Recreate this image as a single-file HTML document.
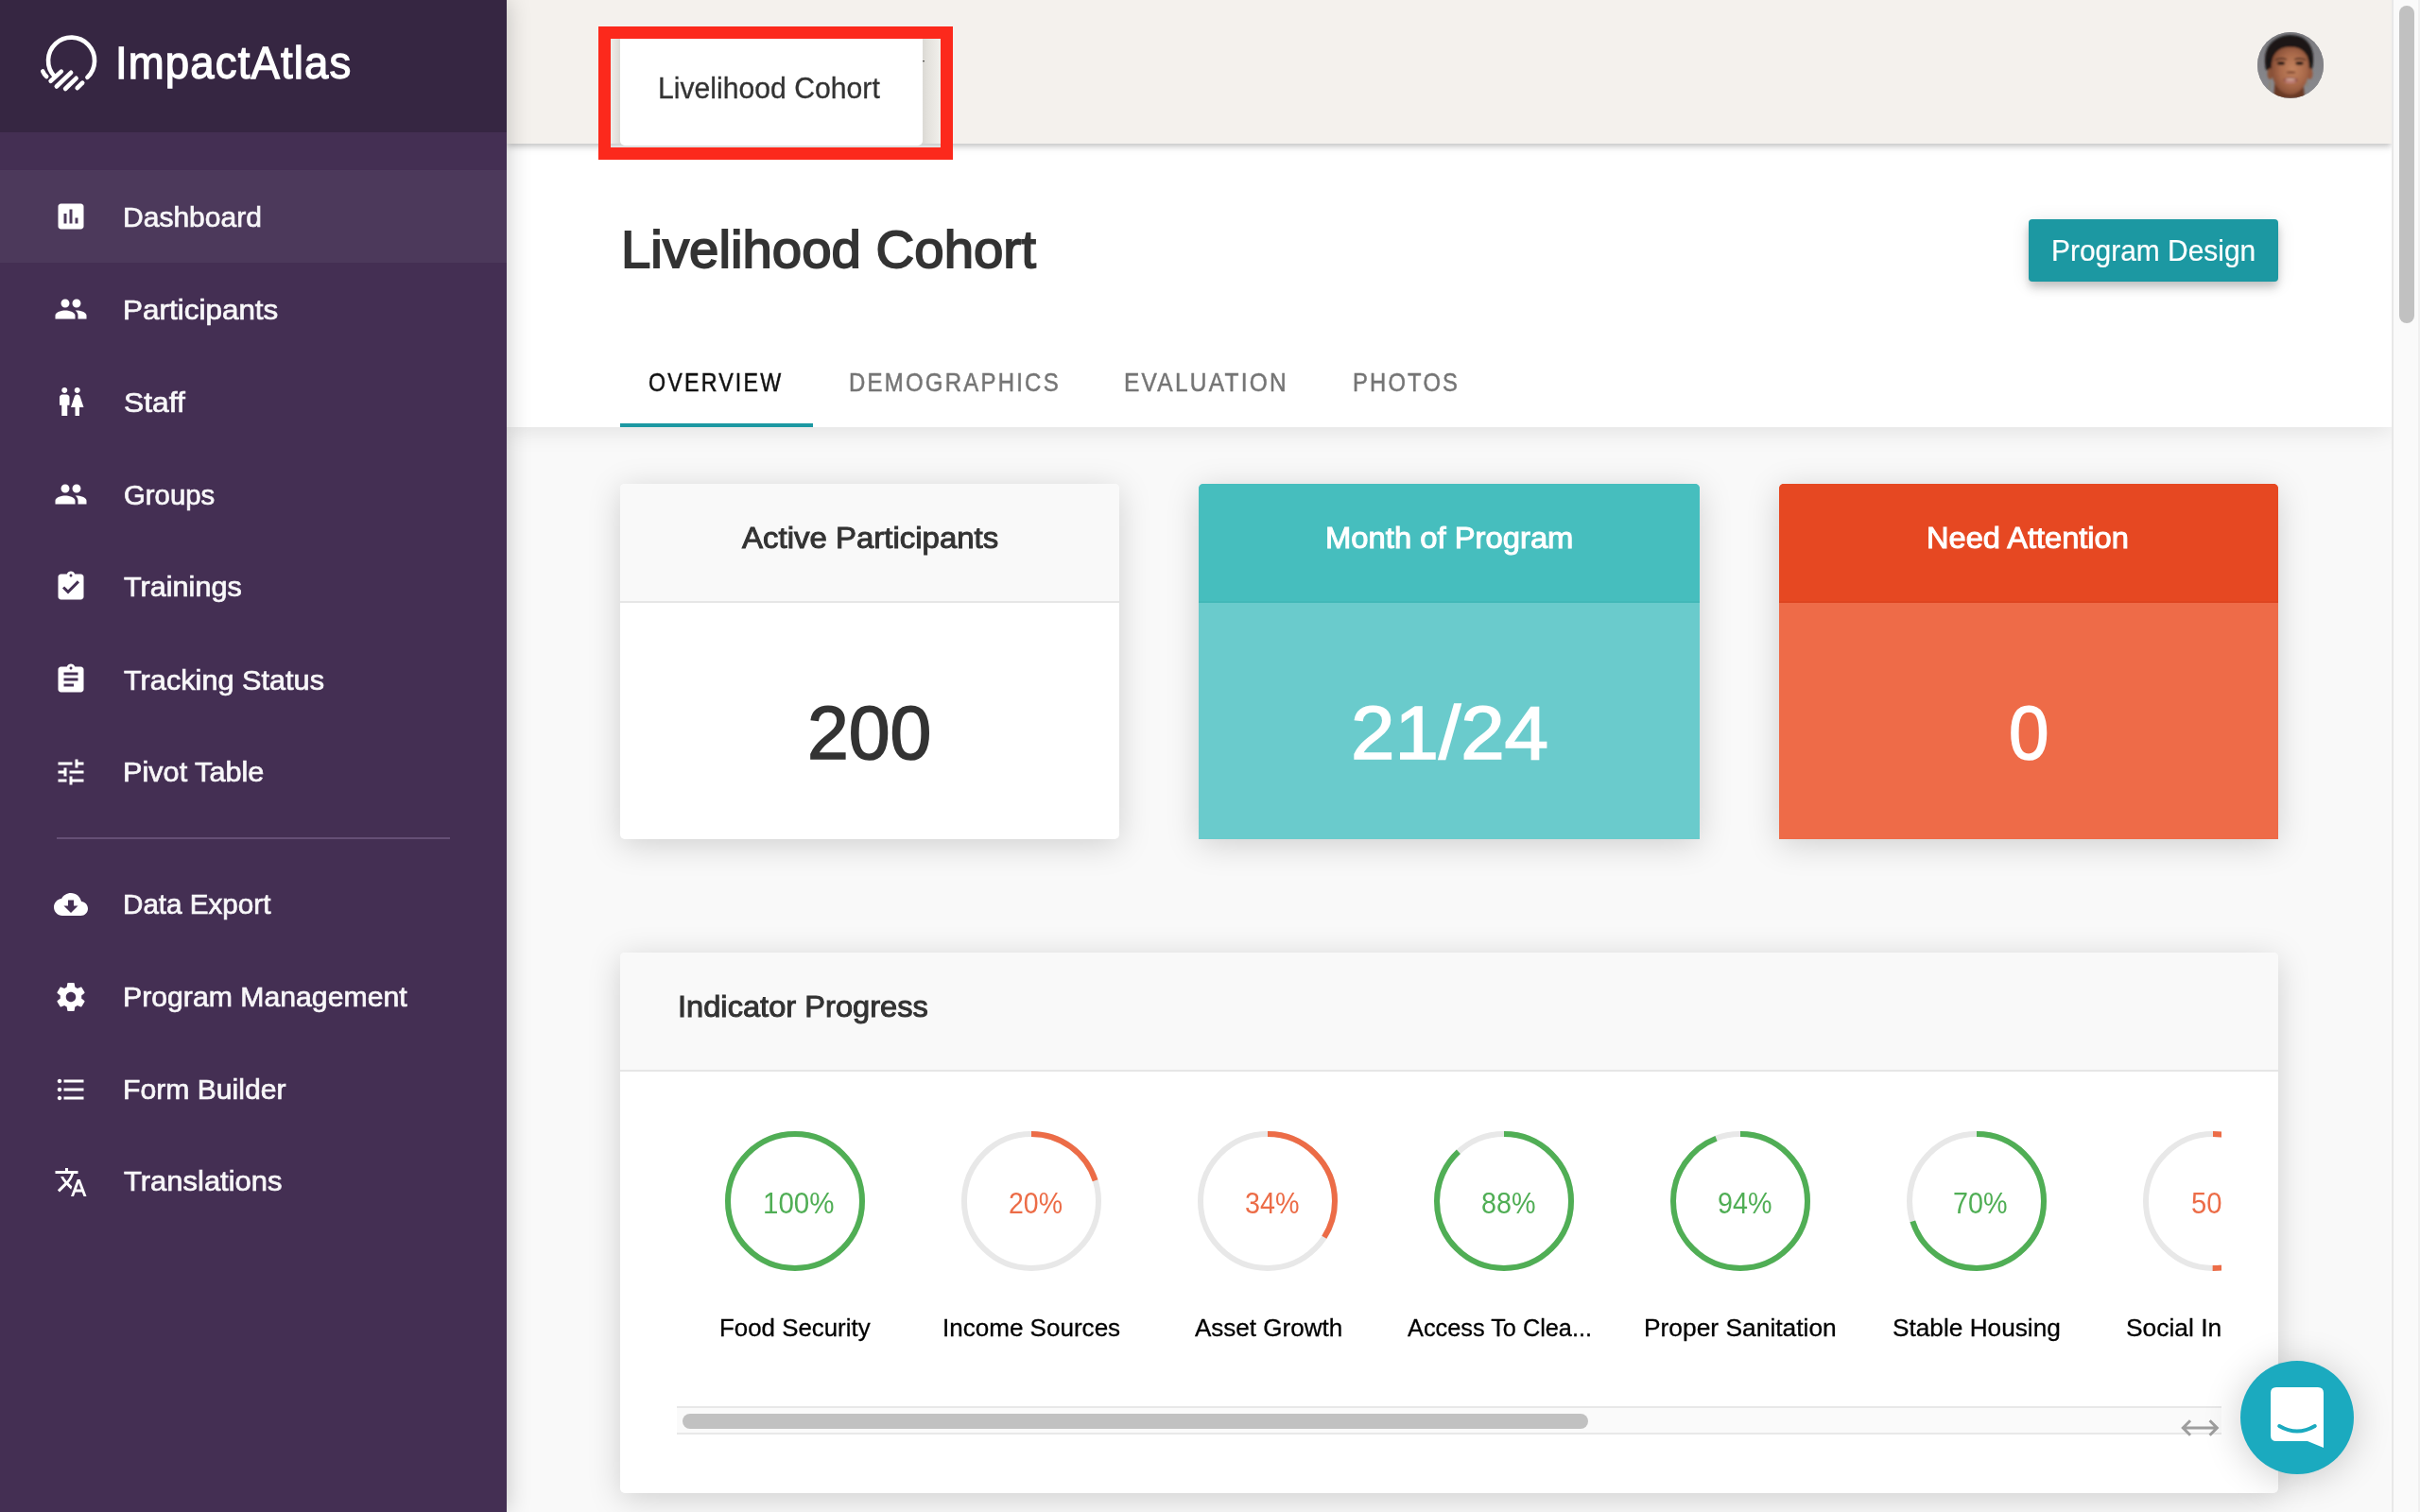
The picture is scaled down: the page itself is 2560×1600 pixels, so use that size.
<!DOCTYPE html>
<html lang="en">
<head>
<meta charset="utf-8">
<title>Impact Atlas - Livelihood Cohort</title>
<style>
*{box-sizing:border-box;margin:0;padding:0}
html,body{width:2560px;height:1600px;overflow:hidden;background:#f9f9f9;font-family:"Liberation Sans",sans-serif}
.abs{position:absolute}
.tx{position:absolute;white-space:nowrap;transform-origin:0 0;font-family:"Liberation Sans",sans-serif}
#textlayer{position:absolute;left:0;top:0;width:2560px;height:1600px;z-index:7;pointer-events:none}
#cliplayer{position:absolute;left:0;top:0;width:2350px;height:1600px;overflow:hidden}
#main{position:absolute;left:536px;top:0;width:1994px;height:1600px;background:#f9f9f9;overflow:hidden}
#topbar{position:absolute;left:0;top:0;width:1994px;height:152px;background:#f4f1ed;box-shadow:0 3px 6px -1px rgba(0,0,0,.20),0 5px 8px rgba(0,0,0,.07);z-index:3}
#pagehead{position:absolute;left:0;top:152px;width:1994px;height:300px;background:#fff;box-shadow:0 4px 24px rgba(0,0,0,.10);z-index:2}
#sidebar{position:absolute;left:0;top:0;width:536px;height:1600px;background:#442f53;box-shadow:0 0 24px rgba(0,0,0,.22);z-index:5}
#brand{position:absolute;left:0;top:0;width:536px;height:140px;background:#362642}
.nav{position:absolute;left:0;width:536px;height:98px}
.nav.active{background:#4c395b}
.nav svg{position:absolute;left:57px;top:31px;width:36px;height:36px;fill:#fff}
#divider{position:absolute;left:60px;top:886px;width:416px;height:2px;background:#654f75}
#scrolltrack{position:absolute;left:2530px;top:0;width:30px;height:1600px;background:#fafafa;border-left:2px solid #e8e8e8;border-right:2px solid #f0f0f0;z-index:6}
#scrollthumb{position:absolute;left:6px;top:6px;width:16px;height:336px;border-radius:8px;background:#c1c1c1}
.card{position:absolute;border-radius:5px;box-shadow:0 6px 34px rgba(0,0,0,.17);overflow:hidden;background:#fff}
.card .hd{position:absolute;left:0;top:0;width:100%;height:126px}
.ring{position:absolute;top:1197px;width:148px;height:148px}
</style>
</head>
<body>

<div id="main">
  <div id="topbar">
    <div class="abs" style="left:110px;top:41px;width:349px;height:111px;background:linear-gradient(90deg,#efede9 0,#dcdad5 10px,#dcdad5 330px,#e4e2dd 336px,#f1efeb 349px)"></div>
    <div class="abs" style="left:120px;top:30px;width:320px;height:124px;background:#fff;border-radius:0 0 5px 5px"></div>
    <div class="abs" style="left:439.800px;top:64px;width:0;height:0;border-left:1.300px solid transparent;border-right:1.300px solid transparent;border-top:2.300px solid #2a2a2a"></div>
    <div class="abs" id="avatar" style="left:1852px;top:34px;width:70px;height:70px;border-radius:50%;overflow:hidden;background:#828287">
      <svg width="70" height="70" viewBox="0 0 70 70">
        <defs>
          <linearGradient id="bgav" x1="0" y1="0" x2="0" y2="1"><stop offset="0" stop-color="#7b7b80"/><stop offset="1" stop-color="#8a8a8e"/></linearGradient>
          <radialGradient id="face" cx="56%" cy="48%" r="62%"><stop offset="0" stop-color="#c4845f"/><stop offset=".55" stop-color="#a9694a"/><stop offset="1" stop-color="#7c4630"/></radialGradient>
          <filter id="bl" x="-10%" y="-10%" width="120%" height="120%"><feGaussianBlur stdDeviation="0.9"/></filter>
        </defs>
        <rect width="70" height="70" fill="url(#bgav)"/>
        <g filter="url(#bl)">
          <path d="M9 40 Q5 20 16 10 Q27 1 40 3.500 Q55 6 58.500 22 Q60 32 57.500 40 L50 41 L16 41Z" fill="#1a1617"/>
          <ellipse cx="13.500" cy="44" rx="3" ry="6" fill="#8a5238"/>
          <ellipse cx="55.500" cy="44" rx="3" ry="6" fill="#96593e"/>
          <path d="M18.500 52 L48.500 52 L50 70 L17 70Z" fill="#6a3b27"/>
          <path d="M14.800 38 Q14.500 16 34.800 15.500 Q55 16 54.800 38 Q54.500 52 47 60 Q41 66 34.800 66 Q28 66 22.500 60 Q15 52 14.800 38Z" fill="url(#face)"/>
          <path d="M12 40 Q11 24 19 19 Q27 14.500 36 15.500 Q47 15.500 53 22 Q58 28 57.500 40 Q60 20 50 9 Q38 2 24 6 Q8 14 12 40Z" fill="#1a1617"/>
          <path d="M19 29.500 Q25 26.800 31 29" stroke="#3a2219" stroke-width="1.300" fill="none"/>
          <path d="M39 29 Q45 26.800 51 29.500" stroke="#3a2219" stroke-width="1.300" fill="none"/>
          <ellipse cx="25" cy="33" rx="4.200" ry="1.900" fill="#2a1a15"/>
          <ellipse cx="44.500" cy="33" rx="4.200" ry="1.900" fill="#2a1a15"/>
          <ellipse cx="35.500" cy="42.500" rx="5" ry="1.600" fill="#8a5138"/>
          <ellipse cx="35" cy="50.800" rx="8.200" ry="3" fill="#9a5a4e"/>
          <ellipse cx="35" cy="50" rx="5.200" ry="0.900" fill="#d2aa9c"/>
          <ellipse cx="35" cy="52.600" rx="5.800" ry="1.600" fill="#c08078"/>
          <path d="M13.500 52 L12.500 61" stroke="#8d8268" stroke-width="1.200"/>
          <path d="M53 52 L52.500 58" stroke="#8d8268" stroke-width="1"/>
        </g>
      </svg>
    </div>
  </div>
  <div id="pagehead">
    <div class="abs" id="btn" style="left:1610px;top:80px;width:264px;height:66px;border-radius:4px;background:#1c98a2;box-shadow:0 4px 8px -2px rgba(0,0,0,.14),0 8px 10px rgba(0,0,0,.11),0 2px 20px rgba(0,0,0,.10)"></div>
    <div class="abs" style="left:120px;top:296px;width:204px;height:4px;background:#1c98a2"></div>
  </div>
  <div class="card" style="left:120px;top:512px;width:528px;height:376px">
    <div class="hd" style="background:#f9f9f9;border-bottom:2px solid #e6e6e6"></div>
  </div>
  <div class="card" style="left:732px;top:512px;width:530px;height:376px;background:#6acbcc;border-radius:5px 5px 0 0">
    <div class="hd" style="background:#46bebe;border-bottom:2px solid #42b8b8"></div>
  </div>
  <div class="card" style="left:1346px;top:512px;width:528px;height:376px;background:#ee6b48;border-radius:5px 5px 0 0">
    <div class="hd" style="background:#e64822;border-bottom:2px solid #de4520"></div>
  </div>
  <div class="card" style="left:120px;top:1008px;width:1754px;height:572px">
    <div class="hd" style="background:#f9f9f9;border-bottom:2px solid #e6e6e6"></div>
    <div class="abs" id="hscroll" style="left:60px;top:480px;width:1634px;height:30px;background:#fafafa;border-top:2px solid #e8e8e8;border-bottom:2px solid #e8e8e8">
      <div class="abs" style="left:6px;top:6px;width:958px;height:16px;border-radius:8px;background:#c1c1c1"></div>
    </div>
    <svg class="abs" style="left:1648px;top:489.600px" width="48" height="26" viewBox="0 0 48 26"><path d="M13 5.300 L5.300 13 L13 20.700 M5.300 13 H41.300 M33.600 5.300 L41.300 13 L33.600 20.700" fill="none" stroke="#9e9e9e" stroke-width="3"/></svg>
  </div>
</div>
<div id="sidebar">
  <div id="brand">
    <svg class="abs" style="left:30px;top:20px" width="100" height="100" viewBox="30 20 100 100">
      <g fill="none" stroke="#fff" stroke-width="4.600" stroke-linecap="round">
        <path d="M92.400 81.900 A24.500 24.500 0 1 0 57.600 80.800"/>
        <path d="M53.600 85.800 L64.800 75.600"/>
        <path d="M59.800 91.500 L75.100 76.800"/>
        <path d="M69.100 94 L80.600 82.800"/>
        <path d="M81.700 93.200 L87.200 87.700"/>
        <path d="M45.300 75.500 Q46.600 78.800 49.200 81"/>
      </g>
    </svg>
  </div>
  <div class="nav active" style="top:180px"><svg viewBox="0 0 24 24"><path d="M19 3H5c-1.1 0-2 .9-2 2v14c0 1.1.9 2 2 2h14c1.1 0 2-.9 2-2V5c0-1.1-.9-2-2-2zM9 17H7v-7h2v7zm4 0h-2V7h2v10zm4 0h-2v-4h2v4z"/></svg></div>
<div class="nav" style="top:278px"><svg viewBox="0 0 24 24"><path d="M16 11c1.66 0 2.99-1.34 2.99-3S17.66 5 16 5c-1.66 0-3 1.34-3 3s1.34 3 3 3zm-8 0c1.66 0 2.99-1.34 2.99-3S9.66 5 8 5C6.34 5 5 6.34 5 8s1.34 3 3 3zm0 2c-2.33 0-7 1.17-7 3.5V19h14v-2.5c0-2.33-4.67-3.5-7-3.5zm8 0c-.29 0-.62.02-.97.05 1.16.84 1.97 1.97 1.97 3.45V19h6v-2.5c0-2.33-4.67-3.5-7-3.5z"/></svg></div>
<div class="nav" style="top:376px"><svg viewBox="0 0 24 24"><path d="M5.5 22v-7.5H4V9c0-1.1.9-2 2-2h3c1.1 0 2 .9 2 2v5.5H9.5V22h-4zM18 22v-6h3l-2.54-7.63C18.18 7.55 17.42 7 16.56 7h-.12c-.86 0-1.63.55-1.9 1.37L12 16h3v6h3zM7.5 6c1.11 0 2-.89 2-2s-.89-2-2-2-2 .89-2 2 .89 2 2 2zm9 0c1.11 0 2-.89 2-2s-.89-2-2-2-2 .89-2 2 .89 2 2 2z"/></svg></div>
<div class="nav" style="top:474px"><svg viewBox="0 0 24 24"><path d="M16 11c1.66 0 2.99-1.34 2.99-3S17.66 5 16 5c-1.66 0-3 1.34-3 3s1.34 3 3 3zm-8 0c1.66 0 2.99-1.34 2.99-3S9.66 5 8 5C6.34 5 5 6.34 5 8s1.34 3 3 3zm0 2c-2.33 0-7 1.17-7 3.5V19h14v-2.5c0-2.33-4.67-3.5-7-3.5zm8 0c-.29 0-.62.02-.97.05 1.16.84 1.97 1.97 1.97 3.45V19h6v-2.5c0-2.33-4.67-3.5-7-3.5z"/></svg></div>
<div class="nav" style="top:572px"><svg viewBox="0 0 24 24"><path d="M19 3h-4.18C14.4 1.84 13.3 1 12 1c-1.3 0-2.4.84-2.82 2H5c-1.1 0-2 .9-2 2v14c0 1.1.9 2 2 2h14c1.1 0 2-.9 2-2V5c0-1.1-.9-2-2-2zm-7 0c.55 0 1 .45 1 1s-.45 1-1 1-1-.45-1-1 .45-1 1-1zm-2 14l-4-4 1.41-1.41L10 14.17l6.59-6.59L18 9l-8 8z"/></svg></div>
<div class="nav" style="top:670px"><svg viewBox="0 0 24 24"><path d="M19 3h-4.18C14.4 1.84 13.3 1 12 1c-1.3 0-2.4.84-2.82 2H5c-1.1 0-2 .9-2 2v14c0 1.1.9 2 2 2h14c1.1 0 2-.9 2-2V5c0-1.1-.9-2-2-2zm-7 0c.55 0 1 .45 1 1s-.45 1-1 1-1-.45-1-1 .45-1 1-1zm2 14H7v-2h7v2zm3-4H7v-2h10v2zm0-4H7V7h10v2z"/></svg></div>
<div class="nav" style="top:768px"><svg viewBox="0 0 24 24"><path d="M3 17v2h6v-2H3zM3 5v2h10V5H3zm10 16v-2h8v-2h-8v-2h-2v6h2zM7 9v2H3v2h4v2h2V9H7zm14 4v-2H11v2h10zm-6-4h2V7h4V5h-4V3h-2v6z"/></svg></div>
<div class="nav" style="top:907.5px"><svg viewBox="0 0 24 24"><path d="M19.35 10.04C18.67 6.59 15.64 4 12 4 9.11 4 6.6 5.64 5.35 8.04 2.34 8.36 0 10.91 0 14c0 3.31 2.69 6 6 6h13c2.76 0 5-2.24 5-5 0-2.64-2.05-4.78-4.65-4.96zM17 13l-5 5-5-5h3V9h4v4h3z"/></svg></div>
<div class="nav" style="top:1005.5px"><svg viewBox="0 0 24 24"><path d="M19.43 12.98c.04-.32.07-.64.07-.98s-.03-.66-.07-.98l2.11-1.65c.19-.15.24-.42.12-.64l-2-3.46c-.12-.22-.39-.3-.61-.22l-2.49 1c-.52-.4-1.08-.73-1.69-.98l-.38-2.65C14.46 2.18 14.25 2 14 2h-4c-.25 0-.46.18-.49.42l-.38 2.65c-.61.25-1.17.59-1.69.98l-2.49-1c-.23-.09-.49 0-.61.22l-2 3.46c-.13.22-.07.49.12.64l2.11 1.65c-.04.32-.07.65-.07.98s.03.66.07.98l-2.11 1.65c-.19.15-.24.42-.12.64l2 3.46c.12.22.39.3.61.22l2.490-1c.52.4 1.08.73 1.69.98l.38 2.65c.03.24.24.42.49.42h4c.25 0 .46-.18.49-.42l.38-2.65c.61-.25 1.17-.59 1.69-.98l2.49 1c.23.09.49 0 .61-.22l2-3.46c.12-.22.07-.49-.12-.64l-2.11-1.65zM12 15.5c-1.93 0-3.5-1.57-3.5-3.5s1.57-3.5 3.5-3.500 3.500 1.570 3.500 3.500-1.570 3.500-3.500 3.500z"/></svg></div>
<div class="nav" style="top:1103.5px"><svg viewBox="0 0 24 24"><path d="M4 10.5c-.83 0-1.5.67-1.5 1.5s.67 1.5 1.5 1.5 1.5-.67 1.5-1.500-.67-1.500-1.500-1.500zm0-6c-.83 0-1.500.67-1.500 1.500S3.170 7.500 4 7.500 5.500 6.830 5.500 6 4.830 4.500 4 4.500zm0 12c-.83 0-1.500.68-1.500 1.500s.68 1.500 1.500 1.500 1.500-.68 1.500-1.500-.67-1.500-1.500-1.500zM7 19h14v-2H7v2zm0-6h14v-2H7v2zm0-8v2h14V5H7z"/></svg></div>
<div class="nav" style="top:1201.5px"><svg viewBox="0 0 24 24"><path d="M12.87 15.07l-2.54-2.51.03-.03c1.74-1.94 2.98-4.17 3.71-6.530H17V4h-7V2H8v2H1v1.990h11.170C11.500 7.920 10.440 9.750 9 11.350 8.070 10.320 7.300 9.190 6.690 8h-2c.73 1.630 1.730 3.170 2.980 4.560l-5.090 5.020L4 19l5-5 3.110 3.110.76-2.040zM18.500 10h-2L12 22h2l1.120-3h4.750L21 22h2l-4.500-12zm-2.620 7l1.620-4.330L19.120 17h-3.240z"/></svg></div>

  <div id="divider"></div>
</div>
<div id="scrolltrack"><div id="scrollthumb"></div></div>
<div id="textlayer">
<div id="cliplayer">
<svg class="ring" style="left:767px" viewBox="0 0 148 148"><circle cx="74" cy="74" r="71" fill="none" stroke="#e8e8e8" stroke-width="6"/><circle cx="74" cy="74" r="71" fill="none" stroke="#50ae55" stroke-width="6" stroke-dasharray="446.11 446.11" transform="rotate(-90 74 74)"/></svg>
<svg class="ring" style="left:1017px" viewBox="0 0 148 148"><circle cx="74" cy="74" r="71" fill="none" stroke="#e8e8e8" stroke-width="6"/><circle cx="74" cy="74" r="71" fill="none" stroke="#ec6c47" stroke-width="6" stroke-dasharray="89.22 446.11" transform="rotate(-90 74 74)"/></svg>
<svg class="ring" style="left:1267px" viewBox="0 0 148 148"><circle cx="74" cy="74" r="71" fill="none" stroke="#e8e8e8" stroke-width="6"/><circle cx="74" cy="74" r="71" fill="none" stroke="#ec6c47" stroke-width="6" stroke-dasharray="151.68 446.11" transform="rotate(-90 74 74)"/></svg>
<svg class="ring" style="left:1517px" viewBox="0 0 148 148"><circle cx="74" cy="74" r="71" fill="none" stroke="#e8e8e8" stroke-width="6"/><circle cx="74" cy="74" r="71" fill="none" stroke="#50ae55" stroke-width="6" stroke-dasharray="392.57 446.11" transform="rotate(-90 74 74)"/></svg>
<svg class="ring" style="left:1767px" viewBox="0 0 148 148"><circle cx="74" cy="74" r="71" fill="none" stroke="#e8e8e8" stroke-width="6"/><circle cx="74" cy="74" r="71" fill="none" stroke="#50ae55" stroke-width="6" stroke-dasharray="419.34 446.11" transform="rotate(-90 74 74)"/></svg>
<svg class="ring" style="left:2017px" viewBox="0 0 148 148"><circle cx="74" cy="74" r="71" fill="none" stroke="#e8e8e8" stroke-width="6"/><circle cx="74" cy="74" r="71" fill="none" stroke="#50ae55" stroke-width="6" stroke-dasharray="312.27 446.11" transform="rotate(-90 74 74)"/></svg>
<svg class="ring" style="left:2267px" viewBox="0 0 148 148"><circle cx="74" cy="74" r="71" fill="none" stroke="#e8e8e8" stroke-width="6"/><circle cx="74" cy="74" r="71" fill="none" stroke="#ec6c47" stroke-width="6" stroke-dasharray="223.05 446.11" transform="rotate(-90 74 74)"/></svg>
<div class="tx clip" id="p7" style="left:2317.89px;top:1256.50px;font-size:32.0px;line-height:32.0px;color:#ec6c47;transform:scaleX(0.9143);">50%</div>
<div class="tx clip" id="l7" style="left:2249.21px;top:1392.00px;font-size:26.6px;line-height:26.6px;color:#000;transform:scaleX(0.9919);-webkit-text-stroke:0.3px #000;">Social Inclusion</div>
</div>
<div class="tx" id="nav0" style="left:130.20px;top:214.80px;font-size:30px;line-height:30px;color:#f8f7f9;transform:scaleX(1.0009);-webkit-text-stroke:0.7px #f8f7f9;">Dashboard</div>
<div class="tx" id="nav1" style="left:130.10px;top:312.60px;font-size:30px;line-height:30px;color:#f8f7f9;transform:scaleX(1.0485);-webkit-text-stroke:0.7px #f8f7f9;">Participants</div>
<div class="tx" id="nav2" style="left:131.14px;top:410.50px;font-size:30px;line-height:30px;color:#f8f7f9;transform:scaleX(1.0588);-webkit-text-stroke:0.7px #f8f7f9;">Staff</div>
<div class="tx" id="nav3" style="left:131.22px;top:508.50px;font-size:30px;line-height:30px;color:#f8f7f9;transform:scaleX(0.9784);-webkit-text-stroke:0.7px #f8f7f9;">Groups</div>
<div class="tx" id="nav4" style="left:130.60px;top:606.30px;font-size:30px;line-height:30px;color:#f8f7f9;transform:scaleX(1.0200);-webkit-text-stroke:0.7px #f8f7f9;">Trainings</div>
<div class="tx" id="nav5" style="left:130.60px;top:704.60px;font-size:30px;line-height:30px;color:#f8f7f9;transform:scaleX(1.0228);-webkit-text-stroke:0.7px #f8f7f9;">Tracking Status</div>
<div class="tx" id="nav6" style="left:130.16px;top:802.30px;font-size:30px;line-height:30px;color:#f8f7f9;transform:scaleX(1.0218);-webkit-text-stroke:0.7px #f8f7f9;">Pivot Table</div>
<div class="tx" id="nav7" style="left:130.23px;top:942.00px;font-size:30px;line-height:30px;color:#f8f7f9;transform:scaleX(0.9874);-webkit-text-stroke:0.7px #f8f7f9;">Data Export</div>
<div class="tx" id="nav8" style="left:130.19px;top:1040.40px;font-size:30px;line-height:30px;color:#f8f7f9;transform:scaleX(1.0073);-webkit-text-stroke:0.7px #f8f7f9;">Program Management</div>
<div class="tx" id="nav9" style="left:130.19px;top:1137.80px;font-size:30px;line-height:30px;color:#f8f7f9;transform:scaleX(1.0046);-webkit-text-stroke:0.7px #f8f7f9;">Form Builder</div>
<div class="tx" id="nav10" style="left:130.60px;top:1235.40px;font-size:30px;line-height:30px;color:#f8f7f9;transform:scaleX(1.0323);-webkit-text-stroke:0.7px #f8f7f9;">Translations</div>
<div class="tx" id="brandtext" style="left:122.31px;top:43.00px;font-size:48px;line-height:48px;color:#fff;transform:scaleX(0.9482);letter-spacing:1.2px;-webkit-text-stroke:1.3px #fff;">ImpactAtlas</div>
<div class="tx" id="seltext" style="left:695.85px;top:78.00px;font-size:31px;line-height:31px;color:#333;transform:scaleX(0.9731);-webkit-text-stroke:0.3px #333;">Livelihood Cohort</div>
<div class="tx" id="title" style="left:656.97px;top:235.80px;font-size:56px;line-height:56px;color:#333;transform:scaleX(1.0068);-webkit-text-stroke:1.8px #333;">Livelihood Cohort</div>
<div class="tx" id="btntext" style="left:2170.09px;top:249.90px;font-size:31.3px;line-height:31.3px;color:#fff;transform:scaleX(0.9564);-webkit-text-stroke:0.2px #fff;">Program Design</div>
<div class="tx" id="tab1" style="left:686.33px;top:392.00px;font-size:26.9px;line-height:26.9px;color:#111;transform:scaleX(0.8653);letter-spacing:2.5px;-webkit-text-stroke:0.5px #111;">OVERVIEW</div>
<div class="tx" id="tab2" style="left:897.62px;top:392.00px;font-size:26.9px;line-height:26.9px;color:#757575;transform:scaleX(0.8914);letter-spacing:2.5px;-webkit-text-stroke:0.5px #757575;">DEMOGRAPHICS</div>
<div class="tx" id="tab3" style="left:1189.18px;top:392.00px;font-size:26.9px;line-height:26.9px;color:#757575;transform:scaleX(0.9092);letter-spacing:2.5px;-webkit-text-stroke:0.5px #757575;">EVALUATION</div>
<div class="tx" id="tab4" style="left:1431.13px;top:392.00px;font-size:26.9px;line-height:26.9px;color:#757575;transform:scaleX(0.8832);letter-spacing:2.5px;-webkit-text-stroke:0.5px #757575;">PHOTOS</div>
<div class="tx" id="h1" style="left:785.30px;top:552.70px;font-size:32.0px;line-height:32.0px;color:#333;transform:scaleX(1.0304);-webkit-text-stroke:1.0px #333;">Active Participants</div>
<div class="tx" id="h2" style="left:1402.25px;top:552.70px;font-size:32.0px;line-height:32.0px;color:#fff;transform:scaleX(1.0247);-webkit-text-stroke:1.0px #fff;">Month of Program</div>
<div class="tx" id="h3" style="left:2038.46px;top:552.70px;font-size:32.0px;line-height:32.0px;color:#fff;transform:scaleX(1.0187);-webkit-text-stroke:1.0px #fff;">Need Attention</div>
<div class="tx" id="v1" style="left:854.26px;top:736.30px;font-size:80px;line-height:80px;color:#333;transform:scaleX(0.9844);-webkit-text-stroke:1.6px #333;">200</div>
<div class="tx" id="v2" style="left:1428.52px;top:736.30px;font-size:80px;line-height:80px;color:#fff;transform:scaleX(1.0442);-webkit-text-stroke:1.6px #fff;">21/24</div>
<div class="tx" id="v3" style="left:2124.94px;top:736.30px;font-size:80px;line-height:80px;color:#fff;transform:scaleX(0.9538);-webkit-text-stroke:1.6px #fff;">0</div>
<div class="tx" id="iptitle" style="left:716.66px;top:1048.70px;font-size:32.0px;line-height:32.0px;color:#333;transform:scaleX(1.0200);-webkit-text-stroke:1.0px #333;">Indicator Progress</div>
<div class="tx" id="p1" style="left:807.35px;top:1256.50px;font-size:32.0px;line-height:32.0px;color:#50ae55;transform:scaleX(0.9233);">100%</div>
<div class="tx" id="p2" style="left:1066.71px;top:1256.50px;font-size:32.0px;line-height:32.0px;color:#ec6c47;transform:scaleX(0.8899);">20%</div>
<div class="tx" id="p3" style="left:1316.50px;top:1256.50px;font-size:32.0px;line-height:32.0px;color:#ec6c47;transform:scaleX(0.8979);">34%</div>
<div class="tx" id="p4" style="left:1566.50px;top:1256.50px;font-size:32.0px;line-height:32.0px;color:#50ae55;transform:scaleX(0.8979);">88%</div>
<div class="tx" id="p5" style="left:1816.50px;top:1256.50px;font-size:32.0px;line-height:32.0px;color:#50ae55;transform:scaleX(0.8979);">94%</div>
<div class="tx" id="p6" style="left:2066.30px;top:1256.50px;font-size:32.0px;line-height:32.0px;color:#50ae55;transform:scaleX(0.8979);">70%</div>
<div class="tx" id="l1" style="left:760.65px;top:1392.00px;font-size:26.6px;line-height:26.6px;color:#000;transform:scaleX(0.9725);-webkit-text-stroke:0.3px #000;">Food Security</div>
<div class="tx" id="l2" style="left:996.84px;top:1392.00px;font-size:26.6px;line-height:26.6px;color:#000;transform:scaleX(0.9791);-webkit-text-stroke:0.3px #000;">Income Sources</div>
<div class="tx" id="l3" style="left:1263.70px;top:1392.00px;font-size:26.6px;line-height:26.6px;color:#000;transform:scaleX(0.9784);-webkit-text-stroke:0.3px #000;">Asset Growth</div>
<div class="tx" id="l4" style="left:1489.10px;top:1392.00px;font-size:26.6px;line-height:26.6px;color:#000;transform:scaleX(0.9515);-webkit-text-stroke:0.3px #000;">Access To Clea...</div>
<div class="tx" id="l5" style="left:1739.22px;top:1392.00px;font-size:26.6px;line-height:26.6px;color:#000;transform:scaleX(0.9916);-webkit-text-stroke:0.3px #000;">Proper Sanitation</div>
<div class="tx" id="l6" style="left:2002.41px;top:1392.00px;font-size:26.6px;line-height:26.6px;color:#000;transform:scaleX(0.9861);-webkit-text-stroke:0.3px #000;">Stable Housing</div>
</div>
<div class="abs" id="redbox" style="left:633px;top:28px;width:375px;height:141px;border:13px solid #fc291c;z-index:8"></div>
<div class="abs" id="chat" style="left:2370px;top:1440px;width:120px;height:120px;border-radius:50%;background:#1baabf;box-shadow:0 4px 40px rgba(0,0,0,.20);z-index:9">
  <svg width="120" height="120" viewBox="0 0 120 120"><path d="M38 28 H82 Q88 28 88 34 V92 L71 85 H38 Q32 85 32 79 V34 Q32 28 38 28Z" fill="#fff"/><path d="M41.200 69 Q60 80 78.800 69" fill="none" stroke="#1baabf" stroke-width="4" stroke-linecap="round"/></svg>
</div>

</body>
</html>
